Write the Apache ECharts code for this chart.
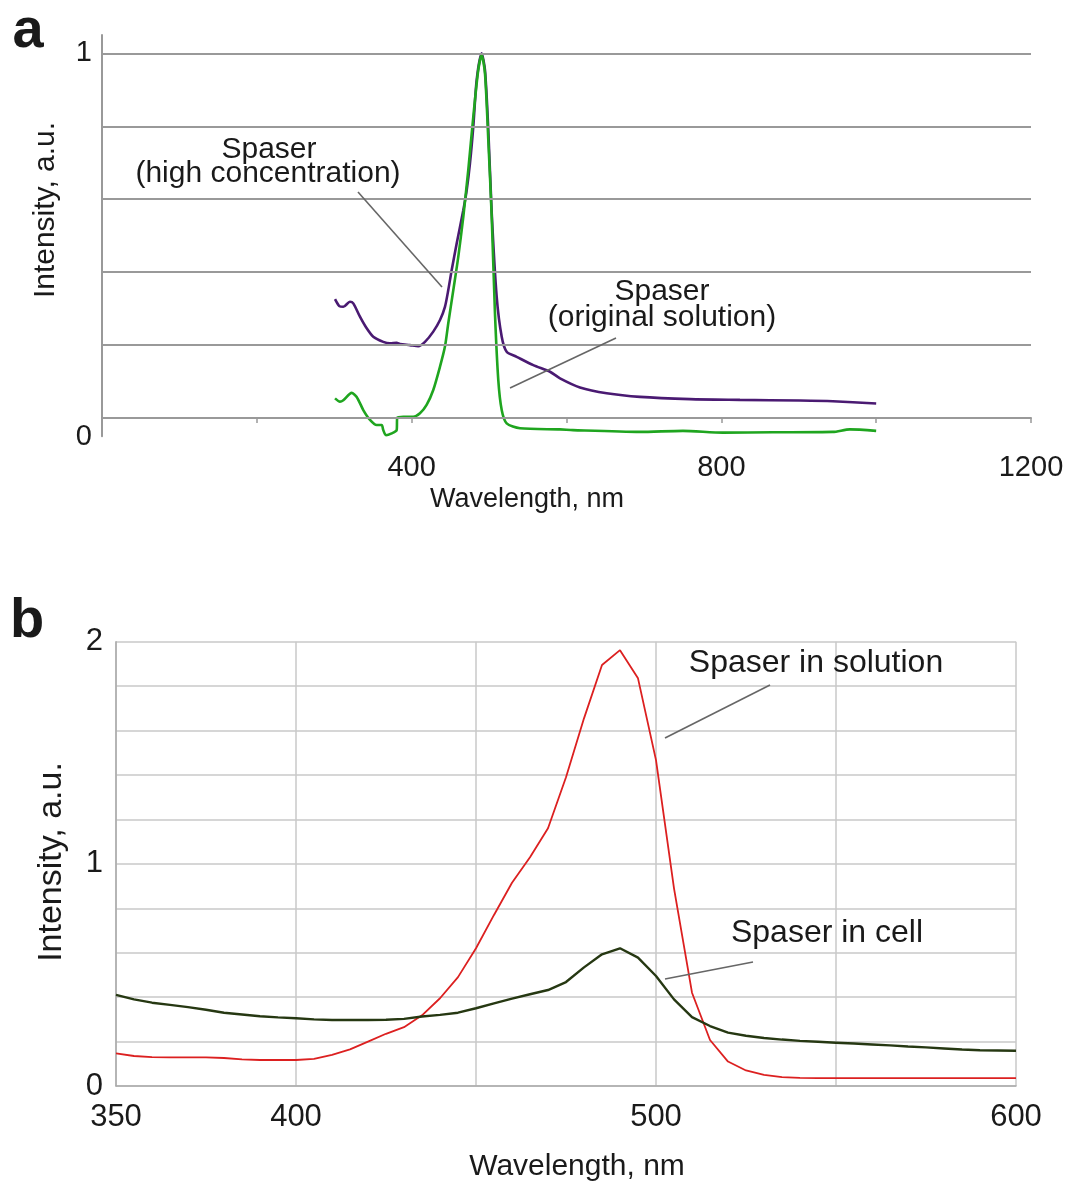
<!DOCTYPE html>
<html>
<head>
<meta charset="utf-8">
<script src="https://cdn.jsdelivr.net/npm/echarts@6/dist/echarts.min.js"></script>
<style>
html,body{margin:0;padding:0;background:#fff;}
#chart{width:1067px;height:1189px;}
</style>
</head>
<body>
<div id="chart"></div>
<script>
// ---------- Panel a data ----------
const hcWave = [301,306.5,311.7,320.3,324.6,333.2,341.9,350.4,363.3,372,380.6,384.9,397.8,408.5,417.2,427.9,436.6,443,447.3,451.7,458.2,466.7,471.1,475.3,479.6,484,490.4,494.7,499,503.4,509.8,516.3,522.7,535.6,557.1,578.7,591.6,617.4,651.9,694.9,759.5,824,901.6,944,1000];
const hcIntensity = [0.326,0.307,0.305,0.319,0.3145,0.278,0.246,0.223,0.209,0.205,0.2065,0.203,0.2,0.197,0.209,0.237,0.269,0.305,0.351,0.406,0.479,0.57,0.625,0.698,0.799,0.927,1.0,0.954,0.79,0.562,0.333,0.223,0.182,0.168,0.145,0.127,0.109,0.084,0.068,0.058,0.052,0.05,0.048,0.046,0.04];
const osWave = [301,307.4,311.7,322.5,329,337.5,346.2,354.8,361.3,363.3,366.8,374.2,380.6,381.4,389.2,402.1,410.7,419.3,427.9,436.6,443,447.3,453.8,460.2,466.7,473.1,479.6,486,490.4,494.7,499,503.4,507.6,511.9,516.3,522.7,539.9,591.6,608.4,694.9,750.4,802,866.7,944,966,1000];
const osIntensity = [0.054,0.045,0.049,0.069,0.058,0.022,-0.005,-0.019,-0.019,-0.033,-0.047,-0.042,-0.033,0.001,0.0036,0.0036,0.013,0.036,0.077,0.141,0.196,0.26,0.351,0.442,0.552,0.68,0.826,0.954,0.995,0.945,0.762,0.552,0.287,0.104,0.022,-0.0145,-0.028,-0.031,-0.033,-0.038,-0.035,-0.04,-0.039,-0.038,-0.031,-0.035];
const aGridValues = [0,0.2,0.4,0.6,0.8,1];
const aXLabels = [400,800,1200];
const aYLabels = [0,1];

// ---------- Panel b data ----------
const bWave = [350,355,360,365,370,375,380,385,390,395,400,405,410,415,420,425,430,435,440,445,450,455,460,465,470,475,480,485,490,495,500,505,510,515,520,525,530,535,540,545,550,555,560,565,570,575,580,585,590,595,600];
const inSolution = [0.147,0.135,0.13,0.129,0.129,0.129,0.126,0.12,0.117,0.117,0.117,0.122,0.14,0.165,0.2,0.235,0.265,0.318,0.395,0.49,0.62,0.77,0.915,1.03,1.16,1.39,1.655,1.895,1.962,1.835,1.467,0.89,0.42,0.207,0.11,0.07,0.05,0.04,0.037,0.035,0.035,0.035,0.035,0.035,0.035,0.035,0.035,0.035,0.035,0.035,0.035];
const inCell = [0.41,0.39,0.375,0.365,0.355,0.343,0.33,0.322,0.314,0.309,0.305,0.3,0.297,0.297,0.297,0.298,0.302,0.313,0.32,0.33,0.35,0.372,0.393,0.413,0.432,0.468,0.534,0.593,0.62,0.578,0.495,0.39,0.31,0.27,0.24,0.226,0.216,0.209,0.203,0.199,0.195,0.191,0.187,0.183,0.178,0.174,0.169,0.164,0.161,0.16,0.159];
const bXLabels = [350,400,500,600];
const bYLabels = [0,1,2];

const FONT = '"Liberation Sans", Arial, Helvetica, sans-serif';
const zip = (xs, ys) => xs.map((x, i) => [x, ys[i]]);
const near = (v, list) => list.some(t => Math.abs(v - t) < 1e-6);

const chart = echarts.init(document.getElementById('chart'), null, {renderer: 'canvas'});

function txt(text, x, y, size, opts) {
  opts = opts || {};
  return {
    type: 'text', x: x, y: y, rotation: opts.rotation || 0, z: 100,
    style: {
      text: text, fill: opts.color || '#1a1a1a',
      font: (opts.bold ? 'bold ' : '') + size + 'px ' + FONT,
      textAlign: 'center', textVerticalAlign: 'middle'
    }
  };
}
function leader(x1, y1, x2, y2) {
  return {type: 'line', z: 100, shape: {x1, y1, x2, y2}, style: {stroke: '#666', lineWidth: 1.6}};
}

const option = {
  backgroundColor: '#fff',
  animation: false,
  grid: [
    {left: 102, top: 35.1, width: 929, height: 401.2},
    {left: 116, top: 641.7, width: 900, height: 444.3}
  ],
  xAxis: [
    {
      gridIndex: 0, type: 'value', min: 0, max: 1200, interval: 200,
      axisLine: {onZero: true, lineStyle: {color: '#999', width: 2}},
      axisTick: {show: true, length: 5, lineStyle: {color: '#999', width: 1.5}},
      splitLine: {show: false},
      axisLabel: {
        margin: 17, color: '#1a1a1a', fontSize: 29, fontFamily: FONT,
        formatter: v => near(v, aXLabels) ? String(v) : ''
      }
    },
    {
      gridIndex: 1, type: 'value', min: 350, max: 600, interval: 50,
      axisLine: {lineStyle: {color: '#aaa', width: 1.5}},
      axisTick: {show: false},
      splitLine: {show: true, lineStyle: {color: '#c8c8c8', width: 1.5}},
      axisLabel: {
        margin: 16, color: '#1a1a1a', fontSize: 31, fontFamily: FONT,
        formatter: v => near(v, bXLabels) ? String(v) : ''
      }
    }
  ],
  yAxis: [
    {
      gridIndex: 0, type: 'value', min: -0.05, max: 1.05, interval: 0.05,
      axisLine: {show: true, lineStyle: {color: '#999', width: 2}},
      axisTick: {show: false},
      splitLine: {show: false},
      axisLabel: {
        margin: 10, color: '#1a1a1a', fontSize: 29, fontFamily: FONT,
        formatter: v => {
          if (Math.abs(v - 1) < 1e-6) return '1';
          if (Math.abs(v) < 1e-6) return '{z|0}';
          return '';
        },
        rich: {z: {fontSize: 29, fontFamily: FONT, color: '#1a1a1a', padding: [38, 0, 0, 0]}}
      }
    },
    {
      gridIndex: 1, type: 'value', min: 0, max: 2, interval: 0.2,
      axisLine: {show: true, lineStyle: {color: '#aaa', width: 1.5}},
      axisTick: {show: false},
      splitLine: {show: true, lineStyle: {color: '#c8c8c8', width: 1.5}},
      axisLabel: {
        margin: 13, color: '#1a1a1a', fontSize: 31, fontFamily: FONT,
        formatter: v => near(v, bYLabels) ? String(Math.round(v)) : ''
      }
    }
  ],
  series: [
    {
      name: 'grid-a', type: 'line', xAxisIndex: 0, yAxisIndex: 0, data: [], z: 1, silent: true,
      markLine: {
        silent: true, symbol: 'none', label: {show: false},
        lineStyle: {color: '#999', width: 2, type: 'solid'},
        data: aGridValues.map(v => ({yAxis: v}))
      }
    },
    {
      name: 'Spaser (high concentration)', type: 'line', xAxisIndex: 0, yAxisIndex: 0,
      data: zip(hcWave, hcIntensity), showSymbol: false, smooth: 0.25, clip: false, z: 3,
      lineStyle: {color: '#4a1a72', width: 2.6}
    },
    {
      name: 'Spaser (original solution)', type: 'line', xAxisIndex: 0, yAxisIndex: 0,
      data: zip(osWave, osIntensity), showSymbol: false, smooth: 0.25, clip: false, z: 3,
      lineStyle: {color: '#1fa51f', width: 2.6}
    },
    {
      name: 'Spaser in solution', type: 'line', xAxisIndex: 1, yAxisIndex: 1,
      data: zip(bWave, inSolution), showSymbol: false, smooth: false, z: 3,
      lineStyle: {color: '#dc2020', width: 1.8}
    },
    {
      name: 'Spaser in cell', type: 'line', xAxisIndex: 1, yAxisIndex: 1,
      data: zip(bWave, inCell), showSymbol: false, smooth: false, z: 3,
      lineStyle: {color: '#263812', width: 2.4}
    }
  ],
  graphic: [
    txt('a', 28, 32, 56, {bold: true}),
    txt('b', 27, 622, 56, {bold: true}),
    txt('Intensity, a.u.', 46, 210, 30, {rotation: Math.PI / 2}),
    txt('Wavelength, nm', 527, 500, 27),
    txt('Intensity, a.u.', 52, 862, 34, {rotation: Math.PI / 2}),
    txt('Wavelength, nm', 577, 1167, 30),
    txt('Spaser', 269, 150, 30),
    txt('(high concentration)', 268, 174, 30),
    leader(358, 192, 442, 287),
    txt('Spaser', 662, 292, 30),
    txt('(original solution)', 662, 318, 30),
    leader(510, 388, 616, 338),
    txt('Spaser in solution', 816, 663, 32),
    leader(770, 685, 665, 738),
    txt('Spaser in cell', 827, 933, 32),
    leader(753, 962, 665, 979)
  ]
};
chart.setOption(option);
</script>
</body>
</html>
